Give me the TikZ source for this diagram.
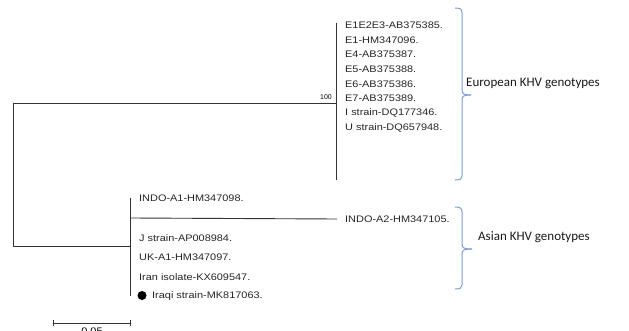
\documentclass[tikz,border=0pt]{standalone}
\usepackage{fontspec}
\setmainfont{Liberation Sans}
\newfontfamily\leaffont[FakeStretch=1.15]{Liberation Sans}
\newfontfamily\bracefont{Carlito}
\definecolor{bracecol}{RGB}{120,160,215}
\begin{document}
\begin{tikzpicture}[x=1pt,y=-1pt,
  leaf/.style={anchor=west,inner sep=0pt,font=\leaffont\fontsize{9.5}{10}\selectfont,text=black!85},
  branch/.style={draw=black!80,line width=0.9pt},
  bracket/.style={draw=bracecol,line width=1pt},
  grouplabel/.style={anchor=west,inner sep=0pt,font=\bracefont\fontsize{13}{15}\selectfont,text=black!90}]
\useasboundingbox (0,0) rectangle (629,331);
% coordinates of tree
\coordinate (rtop) at (13,103);
\coordinate (rbot) at (13,246);
\coordinate (eup) at (336,23);
\coordinate (emid) at (336,103);
\coordinate (edown) at (336,180);
\coordinate (aup) at (130,198);
\coordinate (amid) at (130,246);
\coordinate (a2) at (130,218);
\coordinate (adown) at (130,296);
% leaves European
\node[leaf] (e1) at (345,25) {E1E2E3-AB375385.};
\node[leaf] (e2) at (345,40) {E1-HM347096.};
\node[leaf] (e3) at (345,54.5) {E4-AB375387.};
\node[leaf] (e4) at (345,69) {E5-AB375388.};
\node[leaf] (e5) at (345,84) {E6-AB375386.};
\node[leaf] (e6) at (345,98.5) {E7-AB375389.};
\node[leaf] (e7) at (345,113) {I strain-DQ177346.};
\node[leaf] (e8) at (345,127.5) {U strain-DQ657948.};
% leaves Asian
\node[leaf] (s1) at (139,198) {INDO-A1-HM347098.};
\node[leaf] (s2) at (345,219) {INDO-A2-HM347105.};
\node[leaf] (s3) at (139,238) {J strain-AP008984.};
\node[leaf] (s4) at (139,257) {UK-A1-HM347097.};
\node[leaf] (s5) at (139,277) {Iran isolate-KX609547.};
\node[circle,fill=black,inner sep=0pt,minimum size=9pt] (dot) at (142,295.5) {};
\node[leaf] (s6) at (152,296) {Iraqi strain-MK817063.};
% bootstrap
\node[anchor=south east,inner sep=0pt,font=\fontsize{7}{8}\selectfont] (boot) at (332,100) {100};
% branches
\draw[branch] (rtop) -- (rbot);
\draw[branch] (rtop) -- (emid);
\draw[branch] (eup) -- (edown);
\draw[branch] (rbot) -- (amid);
\draw[branch] (aup) -- (adown);
\draw[branch] (a2) -- ([xshift=-8pt]s2.west);
% brackets
\draw[bracket] (455,8) .. controls (460,8) and (462,9) .. (462,13) -- (462,90) .. controls (462,94) and (464,95) .. (471,95);
\draw[bracket] (471,95) .. controls (464,95) and (462,96) .. (462,100) -- (462,176) .. controls (462,179) and (460,180) .. (455,180);
\node[grouplabel] (eur) at (466,83) {European KHV genotypes};
\draw[bracket] (455,207) .. controls (460,207) and (462,208) .. (462,212) -- (462,244) .. controls (462,248) and (464,249) .. (472,249);
\draw[bracket] (472,249) .. controls (464,249) and (462,250) .. (462,254) -- (462,285) .. controls (462,288) and (460,289) .. (455,289);
\node[grouplabel] (asi) at (478,237) {Asian KHV genotypes};
% scale bar
\coordinate (sb1) at (53,323);
\coordinate (sb2) at (130,323);
\draw[branch] (sb1) -- (sb2);
\draw[branch] ([yshift=-3pt]sb1) -- ([yshift=3pt]sb1);
\draw[branch] ([yshift=-3pt]sb2) -- ([yshift=3pt]sb2);
\node[anchor=north,inner sep=0pt,font=\leaffont\fontsize{9.5}{10}\selectfont] (sbl) at (92,327.5) {0.05};
\end{tikzpicture}
\end{document}
